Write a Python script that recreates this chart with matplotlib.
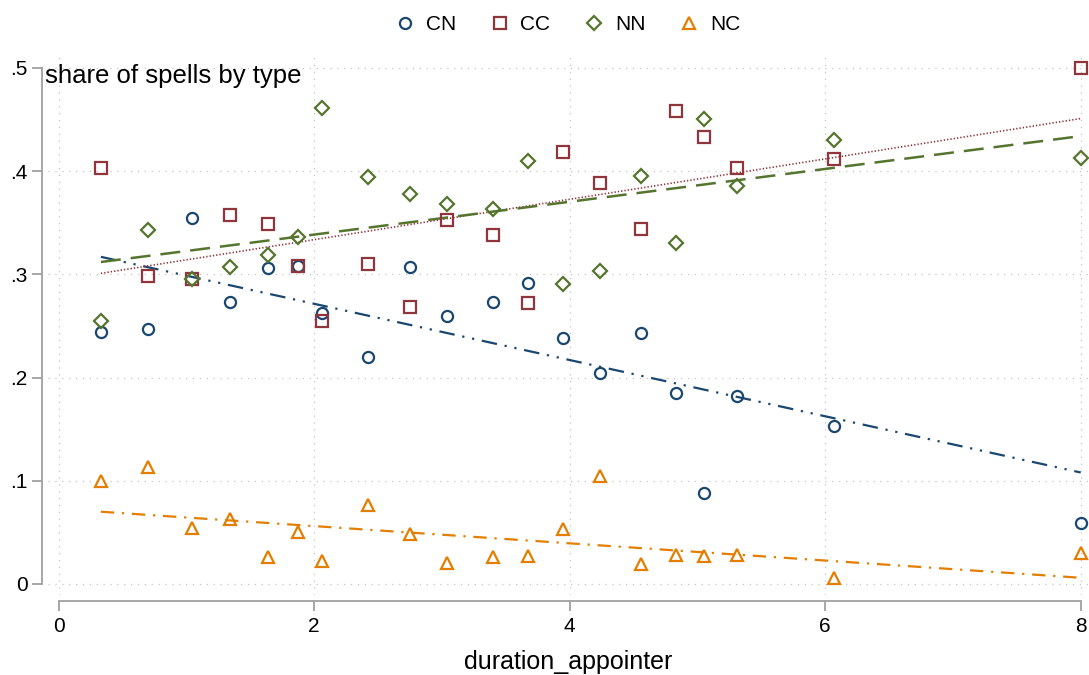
import numpy as np
import matplotlib
matplotlib.use("Agg")
import matplotlib.pyplot as plt

# duration_appointer bins
x = [0.33, 0.70, 1.04, 1.34, 1.64, 1.87, 2.06, 2.42, 2.75, 3.04,
     3.40, 3.67, 3.95, 4.24, 4.56, 4.83, 5.05, 5.31, 6.07, 8.00]

cn = [0.244, 0.247, 0.355, 0.273, 0.306, 0.308, 0.263, 0.220, 0.307, 0.260,
      0.273, 0.292, 0.238, 0.204, 0.243, 0.185, 0.088, 0.182, 0.153, 0.059]
cc = [0.403, 0.298, 0.296, 0.358, 0.349, 0.308, 0.255, 0.310, 0.268, 0.353,
      0.338, 0.272, 0.419, 0.389, 0.344, 0.458, 0.433, 0.403, 0.412, 0.500]
nn = [0.255, 0.343, 0.296, 0.307, 0.319, 0.336, 0.461, 0.394, 0.378, 0.368,
      0.363, 0.410, 0.291, 0.303, 0.395, 0.330, 0.451, 0.386, 0.430, 0.413]
nc = [0.100, 0.113, 0.054, 0.063, 0.026, 0.050, 0.022, 0.077, 0.048, 0.020,
      0.026, 0.027, 0.053, 0.105, 0.019, 0.028, 0.027, 0.028, 0.006, 0.030]

# linear fit lines (fitted values at first and last bin)
fit_start = [0.317, 0.301, 0.312, 0.070]
fit_end = [0.108, 0.451, 0.434, 0.006]

labels = ["CN", "CC", "NN", "NC"]
colors = ["#1a476f", "#90353b", "#55752f", "#e37e00"]
markers = ["o", "s", "D", "^"]
msizes = [8.0, 8.5, 7.5, 9.0]
fit_styles = [
    dict(lw=1.6, dashes=(7, 3.5, 1, 3.5, 1, 3.5)),
    dict(lw=1.2, dashes=(0.8, 1.2)),
    dict(lw=1.8, dashes=(8, 4)),
    dict(lw=1.6, dashes=(6, 3.5, 1, 3.5)),
]

plt.rcParams["font.family"] = ["Liberation Sans", "DejaVu Sans"]

fig = plt.figure(figsize=(10.89, 6.75), dpi=100)
ax = fig.add_axes([48 / 1089, 1 - 595 / 675, 1 - 48 / 1089, (595 - 52) / 675])

handles = []
for ys, lab, col, mk, ms in zip([cn, cc, nn, nc], labels, colors, markers, msizes):
    h, = ax.plot(x, ys, linestyle="none", marker=mk, markersize=ms,
                 markerfacecolor="none", markeredgecolor=col, markeredgewidth=1.6,
                 label=lab, zorder=3)
    handles.append(h)

for y0, y1, col, st in zip(fit_start, fit_end, colors, fit_styles):
    ax.plot([x[0], x[-1]], [y0, y1], color=col, zorder=2, **st)

ax.set_xlim(-0.084, 8.065)
ax.set_ylim(-0.0107, 0.5155)
ax.set_xticks([0, 2, 4, 6, 8])
ax.set_yticks([0, 0.1, 0.2, 0.3, 0.4, 0.5])
ax.set_yticklabels(["0", ".1", ".2", ".3", ".4", ".5"])

ax.grid(True, color="#c4c4c4", linestyle=(0, (1, 4.5)), linewidth=0.9)
ax.set_axisbelow(True)

for s in ["top", "right"]:
    ax.spines[s].set_visible(False)
ax.spines["left"].set_position(("outward", 4.5))
ax.spines["bottom"].set_position(("outward", 4.1))
ax.spines["left"].set_bounds(0, 0.5)
ax.spines["bottom"].set_bounds(0, 8)
for s in ["left", "bottom"]:
    ax.spines[s].set_color("#a0a0a0")
    ax.spines[s].set_linewidth(1.3)
ax.tick_params(axis="both", color="#a0a0a0", width=1.3, length=7, labelsize=15)
ax.tick_params(axis="y", pad=3)
ax.tick_params(axis="x", pad=5)

ax.text(-0.105, 0.492, "share of spells by type", fontsize=18.5, va="center", ha="left",
        transform=ax.transData)
ax.set_xlabel("duration_appointer", fontsize=18, labelpad=10)

fig.legend(handles=handles, loc="upper center", ncol=4, frameon=False,
           fontsize=15, bbox_to_anchor=(0.52, 1.005), handletextpad=0.4,
           columnspacing=1.5, handlelength=1.2)

fig.savefig("out.png", dpi=100)
